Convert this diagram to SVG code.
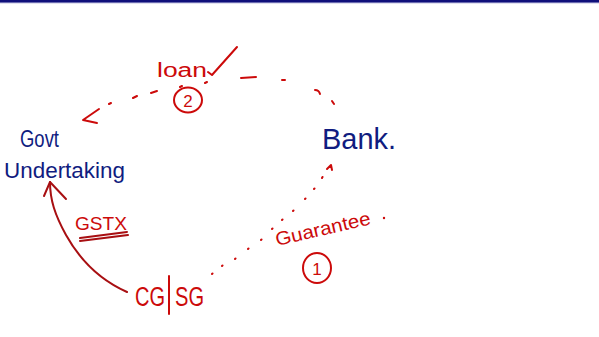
<svg xmlns="http://www.w3.org/2000/svg" width="599" height="337" viewBox="0 0 599 337">
  <style>
    .navy { fill: #101c80; font-family: "Liberation Sans", "DejaVu Sans", sans-serif; }
    .red { fill: #cc0a0a; font-family: "Liberation Sans", "DejaVu Sans", sans-serif; }
    .ink { fill: none; stroke: #cc0a0a; stroke-width: 2; stroke-linecap: round; stroke-linejoin: round; }
    .maroon { fill: none; stroke: #a80f12; stroke-width: 2; stroke-linecap: round; stroke-linejoin: round; }
  </style>

  <!-- page header rule -->
  <rect x="0" y="0" width="599" height="2" fill="#10107a"/>
  <rect x="0" y="2" width="599" height="1.2" fill="#6a6ab0"/>

  <!-- nodes -->
  <g id="govt-undertaking">
    <text class="navy" x="20" y="147" font-size="23" textLength="39" lengthAdjust="spacingAndGlyphs">Govt</text>
    <text class="navy" x="4" y="178" font-size="22" textLength="121" lengthAdjust="spacingAndGlyphs">Undertaking</text>
  </g>

  <g id="bank">
    <text class="navy" x="322" y="149" font-size="30" textLength="74" lengthAdjust="spacingAndGlyphs">Bank.</text>
  </g>

  <g id="cg-sg">
    <text class="red" x="135" y="306" font-size="27" textLength="30" lengthAdjust="spacingAndGlyphs">CG</text>
    <line class="ink" x1="169" y1="276" x2="169" y2="314"/>
    <text class="red" x="175" y="306" font-size="27" textLength="29" lengthAdjust="spacingAndGlyphs">SG</text>
  </g>

  <!-- connectors -->
  <g id="connectors">
    <!-- (2) loan: Bank to Govt Undertaking -->
    <path class="ink" d="M334 104 L332 101 M315 90 Q319 90 320 94 M282 80 L285 80 M241 78 L256 77 M205 83 L207 82 M180 87 L182 86 M151 93 L157 91 M133 98 L137 96 M109 104 L111 103"/>
    <path class="ink" d="M99 109 L83 120 L97 123"/>
    <!-- (1) guarantee: CG|SG to Bank -->
    <path class="ink" stroke-width="2.2" d="M212 274 l0.5 -0.5 M222 266 l0.5 -0.5 M235 259 l0.5 -0.5 M248 249 l0.5 -0.5 M261 240 l0.5 -0.5 M272 229 l0.5 -0.5 M282 220 l0.5 -0.5 M293 211 l0.5 -0.5 M305 199 l0.5 -0.5 M314 189 l0.5 -0.5 M322 178 l0.5 -1"/>
    <path class="ink" d="M327 169 L331 165 L332 170"/>
    <!-- GSTX: CG|SG to Govt Undertaking -->
    <path class="maroon" d="M127 292 C100 280 80 260 66 235 C55 215 50 200 50 182"/>
    <path class="maroon" d="M44 196 L50 182 L66 199"/>
  </g>

  <!-- labels -->
  <g id="loan-label">
    <text class="red" x="157" y="77" font-size="20" textLength="50" lengthAdjust="spacingAndGlyphs">loan</text>
    <path class="ink" d="M208 72 L212 75 L237 47"/>
    <ellipse class="ink" cx="188" cy="100" rx="14" ry="12.5"/>
    <text class="red" x="188" y="107" font-size="17" text-anchor="middle">2</text>
  </g>

  <g id="guarantee-label">
    <text class="red" x="277" y="246" font-size="19" textLength="97" lengthAdjust="spacingAndGlyphs" transform="rotate(-13 277 246)">Guarantee</text>
    <circle cx="384" cy="218" r="1.2" fill="#cc0a0a"/>
    <ellipse class="ink" cx="317" cy="268" rx="14" ry="15"/>
    <text class="red" x="317" y="275" font-size="17" text-anchor="middle">1</text>
  </g>

  <g id="gstx-label">
    <text class="red" x="75" y="230" font-size="18" textLength="52" lengthAdjust="spacingAndGlyphs">GSTX</text>
    <path class="maroon" d="M80 238 L127 232 M80 241 L128 235"/>
  </g>
</svg>
